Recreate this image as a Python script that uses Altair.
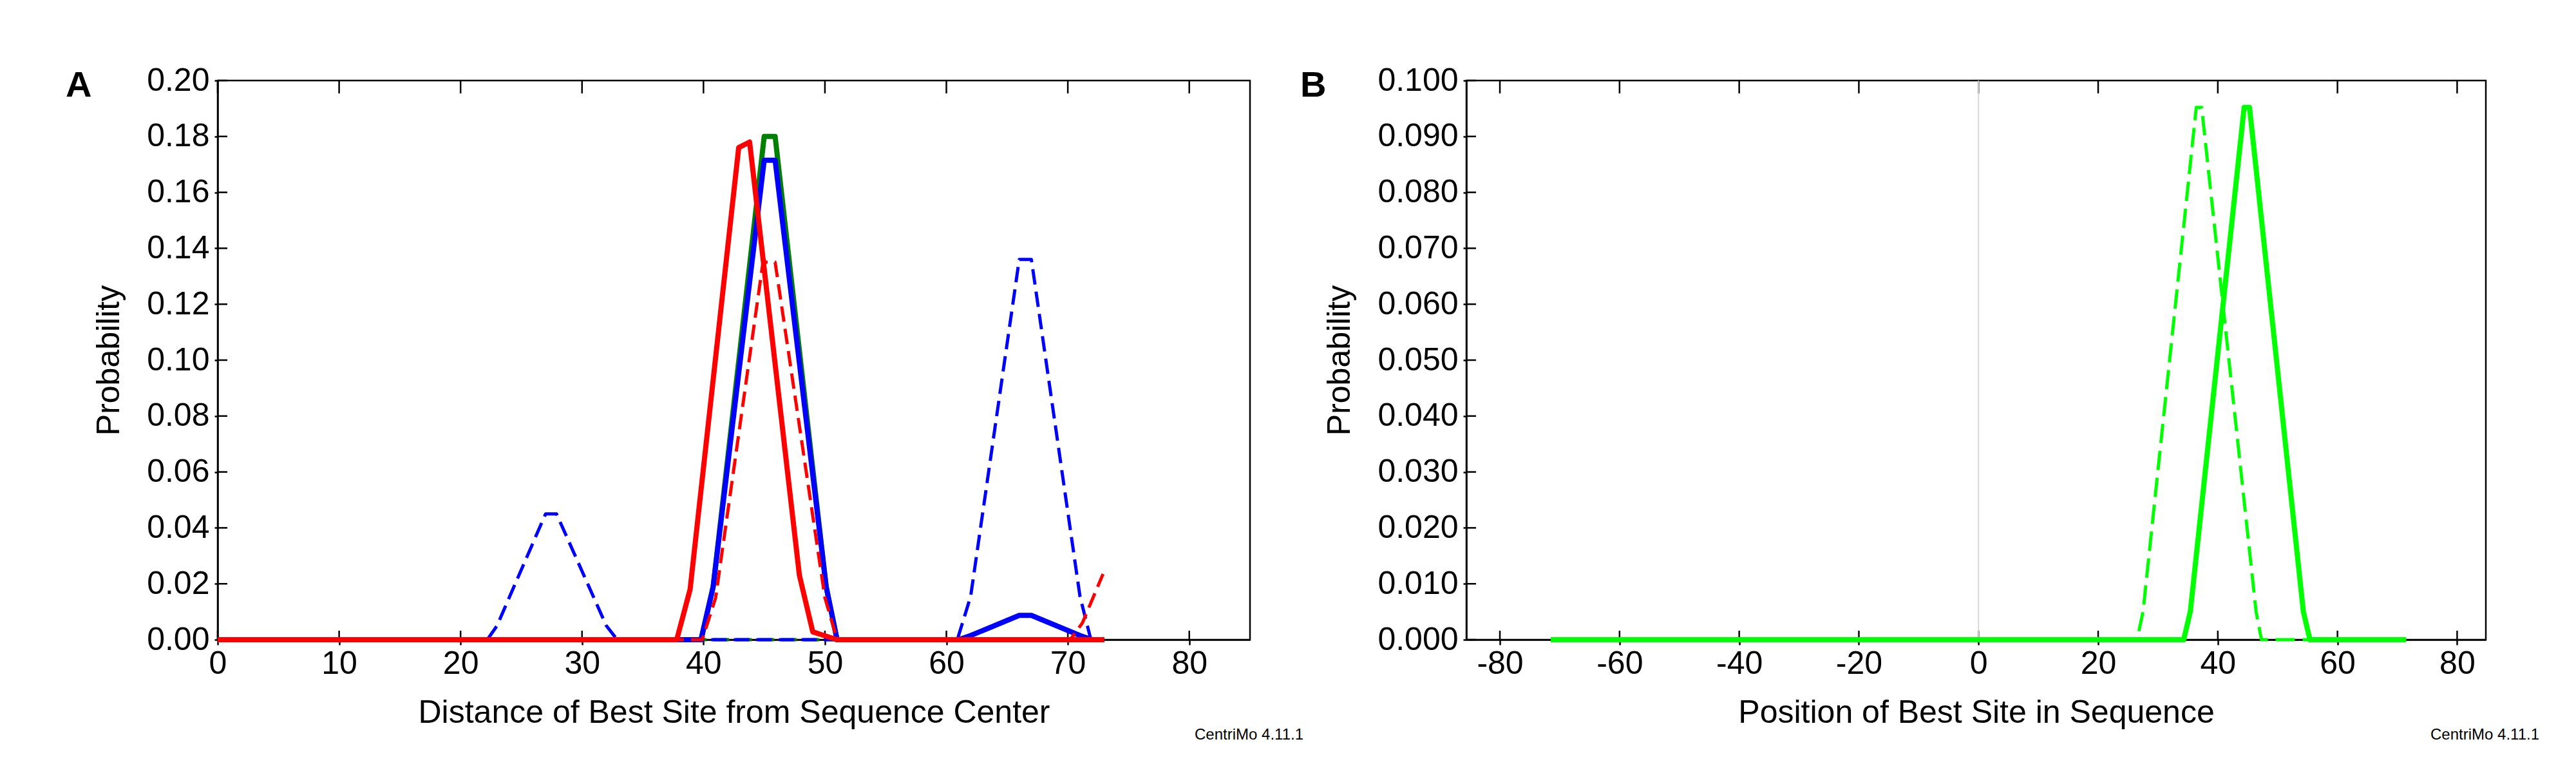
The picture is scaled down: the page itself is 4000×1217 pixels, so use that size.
import altair as alt
import pandas as pd

# ---------------- Panel A data ----------------
a_green_x = [0, 39.8, 40.8, 45.0, 45.9, 50.1, 51.0, 73]
a_green_y = [0, 0, 0.019, 0.180, 0.180, 0.019, 0, 0]
a_green_dash_x = [0, 73]
a_green_dash_y = [0, 0]
a_blue_x = [0, 39.8, 40.8, 45.0, 45.9, 50.1, 51.0, 61.0, 62.0, 66.0, 67.0, 71.0, 72.0, 73]
a_blue_y = [0, 0, 0.019, 0.1715, 0.1715, 0.019, 0, 0, 0.0015, 0.0087, 0.0087, 0.0015, 0, 0]
a_blue_dash_x = [0, 22.2, 23.0, 27.0, 27.9, 32.0, 32.9, 60.9, 62.0, 66.0, 67.0, 71.0, 71.9, 73]
a_blue_dash_y = [0, 0, 0.005, 0.045, 0.045, 0.005, 0, 0, 0.0155, 0.136, 0.136, 0.0155, 0, 0]
a_red_dash_x = [0, 39.9, 41.0, 44.9, 45.9, 50.0, 51.0, 70.2, 71.2, 72.9]
a_red_dash_y = [0, 0, 0.015, 0.135, 0.135, 0.015, 0, 0, 0.006, 0.0235]
a_red_x = [0, 37.8, 38.9, 42.9, 43.8, 47.9, 49.0, 51.0, 73]
a_red_y = [0, 0, 0.018, 0.176, 0.178, 0.023, 0.0028, 0, 0]

a_xticks = [0, 10, 20, 30, 40, 50, 60, 70, 80]
a_yticks = [0.0, 0.02, 0.04, 0.06, 0.08, 0.10, 0.12, 0.14, 0.16, 0.18, 0.20]
a_xdomain = [0, 85]
a_ydomain = [0, 0.2]

# ---------------- Panel B data ----------------
b_solid_x = [-71.5, 34.3, 35.4, 44.4, 45.3, 54.3, 55.4, 71.5]
b_solid_y = [0, 0, 0.005, 0.0952, 0.0952, 0.005, 0, 0]
b_dash_x = [-71.5, 26.5, 27.5, 36.4, 37.3, 46.4, 47.3, 71.5]
b_dash_y = [0, 0, 0.005, 0.0952, 0.0952, 0.005, 0, 0]
b_center_x = [0]
b_center_y = [0.0, 0.1]

b_xticks = [-80, -60, -40, -20, 0, 20, 40, 60, 80]
b_yticks = [0.0, 0.01, 0.02, 0.03, 0.04, 0.05, 0.06, 0.07, 0.08, 0.09, 0.10]
b_xdomain = [-85.6, 84.8]
b_ydomain = [0, 0.1]

panel_letters = ["A", "B"]
version_text = "CentriMo 4.11.1"
x_titles = ["Distance of Best Site from Sequence Center", "Position of Best Site in Sequence"]
y_title = "Probability"

FONT = "Liberation Sans"
H = 868


def make_axes(xticks, yticks, xtitle, yfmt):
    common = dict(grid=False, labelFont=FONT, titleFont=FONT, labelFontSize=50,
                  titleFontSize=50, titleFontWeight="normal", labelColor="black",
                  titleColor="black", tickColor="black", domainColor="black",
                  tickWidth=2.5, domainWidth=2.5, labelFlush=False, labelOverlap=False)
    xaxis = alt.Axis(values=xticks, title=xtitle, tickSize=8, labelPadding=4,
                     titlePadding=26, labelExpr="'' + datum.value", **common)
    yaxis = alt.Axis(values=yticks, title=y_title, tickSize=5, labelPadding=8,
                     titlePadding=33, format=yfmt, **common)
    return xaxis, yaxis


def panel(series, xticks, yticks, xdomain, ydomain, xtitle, yfmt, W, letter, extra=None):
    xaxis, yaxis = make_axes(xticks, yticks, xtitle, yfmt)
    xs = alt.Scale(domain=xdomain, nice=False, zero=False)
    ys = alt.Scale(domain=ydomain, nice=False, zero=False)

    def X(f):
        return alt.X(f, type="quantitative", scale=xs, axis=xaxis)

    def Y(f):
        return alt.Y(f, type="quantitative", scale=ys, axis=yaxis)

    layers = []
    # inward tick parts
    tx = pd.DataFrame({"t": xticks})
    ty = pd.DataFrame({"t": yticks})
    layers.append(alt.Chart(tx).mark_rule(color="black", strokeWidth=2.5).encode(
        x=X("t"), y=alt.value(H), y2=alt.value(H - 14)))
    layers.append(alt.Chart(tx).mark_rule(color="black", strokeWidth=2.5).encode(
        x=X("t"), y=alt.value(0), y2=alt.value(20)))
    layers.append(alt.Chart(ty).mark_rule(color="black", strokeWidth=2.5).encode(
        y=Y("t"), x=alt.value(0), x2=alt.value(15)))
    if extra is not None:
        cx, cy = extra
        dfc = pd.DataFrame({"x": cx * 2, "y": cy})
        layers.append(alt.Chart(dfc).mark_line(color="#d9d9d9", strokeWidth=2).encode(
            x=X("x"), y=Y("y")))
    for xsv, ysv, color, width, dash in series:
        df = pd.DataFrame({"x": xsv, "y": ysv, "i": list(range(len(xsv)))})
        kw = dict(color=color, strokeWidth=width, strokeCap="butt", strokeJoin="round")
        if dash:
            kw["strokeDash"] = dash
        layers.append(alt.Chart(df).mark_line(**kw).encode(
            x=X("x"), y=Y("y"), order="i:Q"))
    lab = pd.DataFrame({"t": [letter]})
    layers.append(alt.Chart(lab).mark_text(align="left", baseline="alphabetic", font=FONT,
                                           fontSize=56, fontWeight="bold", color="black").encode(
        x=alt.value(-236 if letter == "A" else -258), y=alt.value(25), text="t:N"))
    ver = pd.DataFrame({"t": [version_text]})
    layers.append(alt.Chart(ver).mark_text(align="right", baseline="alphabetic", font=FONT,
                                           fontSize=24, color="black").encode(
        x=alt.value(W + 83), y=alt.value(H + 155), text="t:N"))
    return alt.layer(*layers).properties(width=W, height=H)


DASH_A = [24, 11]
DASH_B = [30, 12]

seriesA = [
    (a_green_x, a_green_y, "#008000", 8, None),
    (a_green_dash_x, a_green_dash_y, "#008000", 5, DASH_A),
    (a_blue_x, a_blue_y, "#0000ff", 8, None),
    (a_blue_dash_x, a_blue_dash_y, "#0000ff", 5, DASH_A),
    (a_red_dash_x, a_red_dash_y, "#ff0000", 5, DASH_A),
    (a_red_x, a_red_y, "#ff0000", 8, None),
]
seriesB = [
    (b_dash_x, b_dash_y, "#00ff00", 5, DASH_B),
    (b_solid_x, b_solid_y, "#00ff00", 8, None),
]

chartA = panel(seriesA, a_xticks, a_yticks, a_xdomain, a_ydomain, x_titles[0], ".2f", 1603, panel_letters[0])
chartB = panel(seriesB, b_xticks, b_yticks, b_xdomain, b_ydomain, x_titles[1], ".3f", 1583, panel_letters[1],
               extra=(b_center_x, b_center_y))

chart = alt.hconcat(chartA, chartB, spacing=336, bounds="flush").properties(
    padding={"left": 92, "top": 90, "right": 5, "bottom": 5},
    background="white",
).configure_view(stroke="black", strokeWidth=2.5)

chart.save("out.html", embed_options={"renderer": "svg", "actions": False})
